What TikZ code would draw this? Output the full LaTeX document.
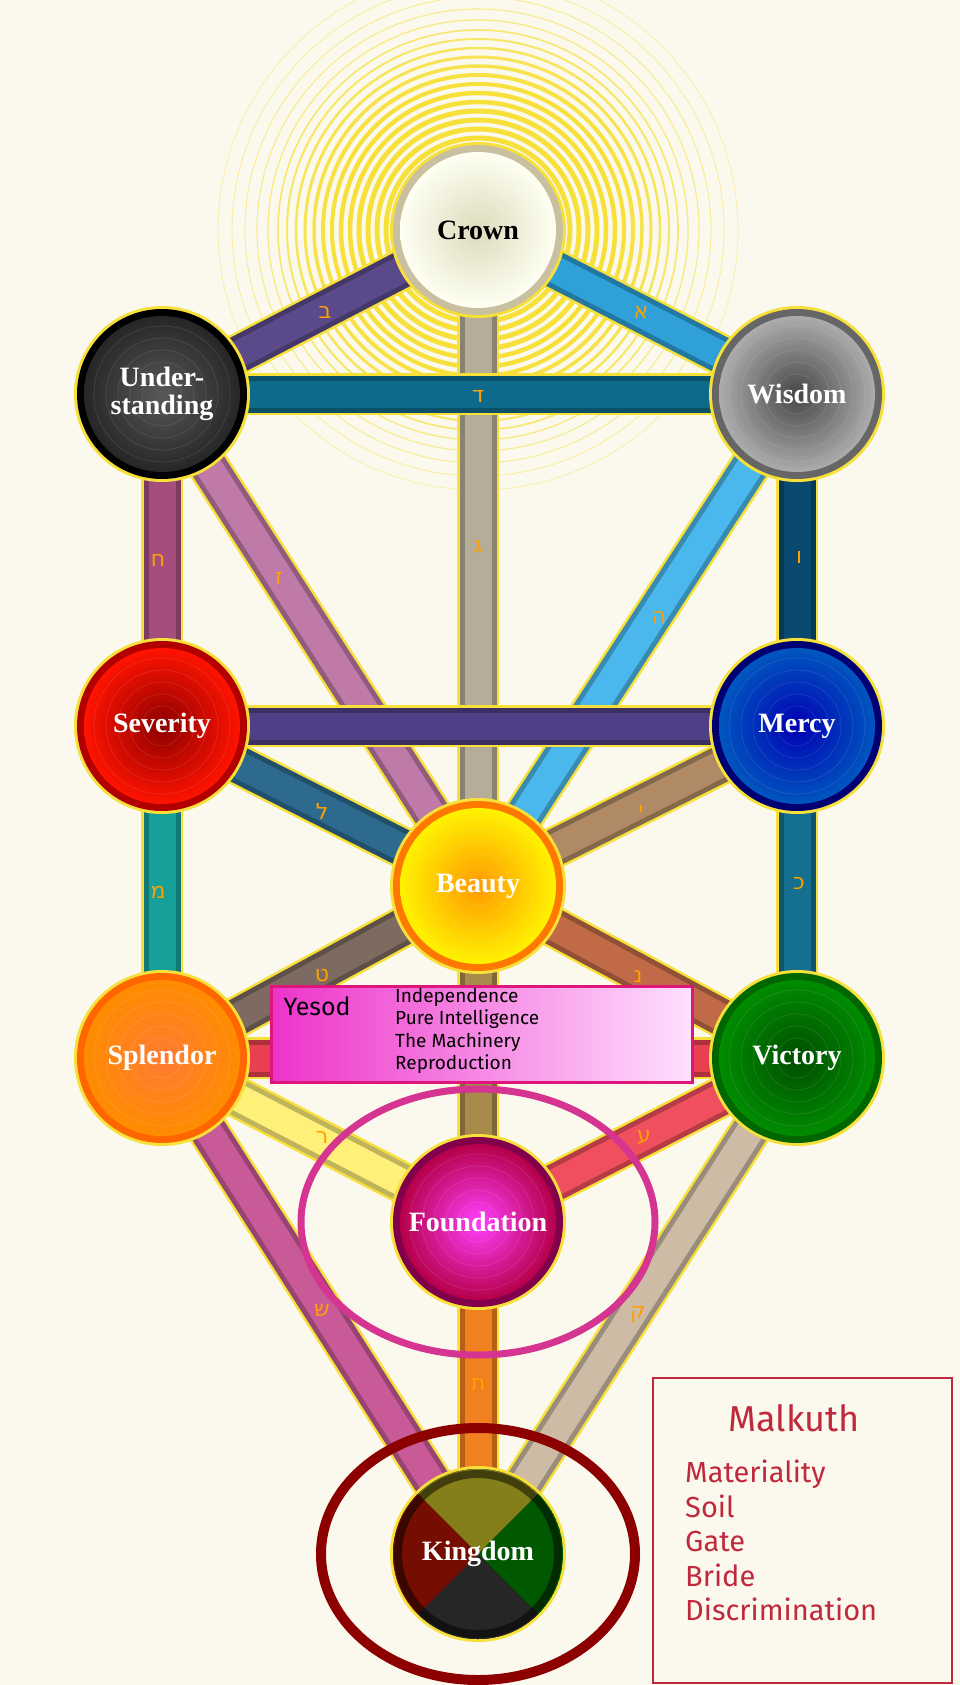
\documentclass[tikz,border=0pt]{standalone}
\usepackage{fontspec}
\setmainfont{Liberation Serif}
\newfontfamily\hebfont{DejaVu Sans}
\newfontfamily\boxfont{Fira Sans}
\begin{document}
\begin{tikzpicture}[x=1pt,y=-1pt,
  heb/.style={text=orange!75!yellow,font=\hebfont\fontsize{22}{22}\selectfont},
  sname/.style={font=\bfseries\fontsize{28}{30}\selectfont,align=center}]
\definecolor{bg}{HTML}{FBF9EE}
\definecolor{glow}{HTML}{F7E03A}
\definecolor{crim}{HTML}{C0283C}
\fill[bg] (0,0) rectangle (960,1685);
\useasboundingbox (0,0) rectangle (960,1685);
% centers
\coordinate (crown) at (478,230);
\coordinate (und) at (162,394);
\coordinate (wis) at (797,394);
\coordinate (sev) at (162,726);
\coordinate (mer) at (797,726);
\coordinate (bea) at (478,886);
\coordinate (spl) at (162,1058);
\coordinate (vic) at (797,1058);
\coordinate (fou) at (478,1222);
\coordinate (kin) at (478,1554);
% glow rings
\foreach \r/\w/\o in {92/5/1,101/5/1,110/5/1,119/5/1,128/4.5/1,137/4.5/1,146/4/1,155/4/.95,164/3.5/.9,173/3/.85,182/2.5/.8,191/2/.75,200/1.6/.7,210/1.3/.6,221/1.1/.55,233/1/.5,246/.9/.45,260/.8/.4}
  \draw[glow,line width=\w,opacity=\o] (crown) circle (\r);
% paths
\newcommand\sefpath[3]{%
  \draw[glow,line width=42] (#1) -- (#2);
  \draw[#3!75!black,line width=37] (#1) -- (#2);
  \draw[#3,line width=27] (#1) -- (#2);}
\definecolor{p1}{HTML}{5A4A8A}\definecolor{p2}{HTML}{2FA0D8}
\definecolor{p3}{HTML}{B5AD98}\definecolor{p4}{HTML}{0E6A8A}
\definecolor{p5}{HTML}{A54E7E}\definecolor{p6}{HTML}{C07AA8}
\definecolor{p7}{HTML}{0A4A70}\definecolor{p8}{HTML}{4AB8EC}
\definecolor{p9}{HTML}{4F3F86}\definecolor{p10}{HTML}{2D6A8E}
\definecolor{p11}{HTML}{B08A64}\definecolor{p12}{HTML}{17A09A}
\definecolor{p13}{HTML}{14708E}\definecolor{p14}{HTML}{7D6A60}
\definecolor{p15}{HTML}{C06A48}\definecolor{p16}{HTML}{A88A4A}
\definecolor{p17}{HTML}{E84050}\definecolor{p18}{HTML}{FFF07A}
\definecolor{p19}{HTML}{F0505E}\definecolor{p20}{HTML}{C85A98}
\definecolor{p21}{HTML}{CDBBA5}\definecolor{p22}{HTML}{F08020}
\sefpath{crown}{bea}{p3}
\sefpath{und}{bea}{p6}
\sefpath{wis}{bea}{p8}
\sefpath{sev}{bea}{p10}
\sefpath{mer}{bea}{p11}
\sefpath{crown}{und}{p1}
\sefpath{crown}{wis}{p2}
\sefpath{und}{wis}{p4}
\sefpath{und}{sev}{p5}
\sefpath{wis}{mer}{p7}
\sefpath{sev}{mer}{p9}
\sefpath{sev}{spl}{p12}
\sefpath{mer}{vic}{p13}
\sefpath{bea}{fou}{p16}
\sefpath{bea}{spl}{p14}
\sefpath{bea}{vic}{p15}
\sefpath{spl}{vic}{p17}
\sefpath{spl}{fou}{p18}
\sefpath{vic}{fou}{p19}
\sefpath{fou}{kin}{p22}
\sefpath{spl}{kin}{p20}
\sefpath{vic}{kin}{p21}
% hebrew letters
\node[heb] (h1) at (325,312) {ב};
\node[heb] (h2) at (641,312) {א};
\node[heb] (h3) at (478,396) {ד};
\node[heb] (h4) at (478,547) {ג};
\node[heb] (h5) at (158,560) {ח};
\node[heb] (h6) at (279,578) {ז};
\node[heb] (h7) at (799,557) {ו};
\node[heb] (h8) at (659,617) {ה};
\node[heb] (h9) at (322,811) {ל};
\node[heb] (h10) at (641,811) {י};
\node[heb] (h11) at (158,892) {מ};
\node[heb] (h12) at (799,883) {כ};
\node[heb] (h13) at (322,976) {ט};
\node[heb] (h14) at (638,976) {נ};
\node[heb] (h15) at (322,1137) {ר};
\node[heb] (h16) at (644,1137) {ע};
\node[heb] (h17) at (322,1310) {ש};
\node[heb] (h18) at (638,1315) {ק};
\node[heb] (h19) at (478,1385) {ת};
% sephiroth
\newcommand\sefira[6]{%
  \fill[glow] (#1) circle (88);
  \fill[#2] (#1) circle (85);
  \shade[inner color=#4,outer color=#3] (#1) circle (78);
  \foreach \rr in {20,32,44,56,68}{\draw[white,opacity=.12,line width=.6] (#1) circle (\rr);}
  \node[sname,text=#5] (#1-t) at (#1) {#6};}
\definecolor{cr}{HTML}{C8C0A0}
\sefira{crown}{cr}{white!95!yellow}{yellow!30!gray!40!white}{black}{Crown}
\sefira{und}{black}{black!85}{black!65}{white}{Under-\\[-2pt]standing}
\sefira{wis}{gray!80!black}{gray!65}{gray!55!black}{white}{Wisdom}
\sefira{sev}{red!70!black}{red!85!orange}{red!55!black}{white}{Severity}
\sefira{mer}{blue!45!black}{blue!55!cyan!75!black}{blue!70!black}{white}{Mercy}
\sefira{bea}{orange!95!red}{yellow!90!orange}{orange!80!yellow}{white}{Beauty}
\sefira{spl}{orange!80!red}{orange!90!yellow}{orange!70!red!80!white}{white}{Splendor}
\sefira{vic}{green!40!black}{green!55!black}{green!30!black}{white}{Victory}
\sefira{fou}{violet!50!purple!80!black}{purple!85!violet}{magenta!75!white}{white}{Foundation}
% kingdom
\fill[glow] (kin) circle (88);
\begin{scope}
\clip (kin) circle (85);
\fill[black] (kin) circle (85);
\fill[olive!85!yellow!80!black] (kin) -- ++(-120,-120) -- ++(240,0) -- cycle;
\fill[green!35!black] (kin) -- ++(120,-120) -- ++(0,240) -- cycle;
\fill[black!85] (kin) -- ++(120,120) -- ++(-240,0) -- cycle;
\fill[red!40!black!90!orange] (kin) -- ++(-120,120) -- ++(0,-240) -- cycle;
\draw[black,opacity=.5,line width=8] (kin) circle (80);
\end{scope}
\node[sname,text=white] (kin-t) at (kin) {Kingdom};
% highlight ellipses
\draw[magenta!70!violet!90!white,line width=7] (fou) ellipse (177 and 133);
\draw[red!55!black,line width=10] (kin) ellipse (157 and 126);
% Yesod box
\shade[left color=magenta!65!purple!80!white,right color=magenta!12!white] (271,986) rectangle (692,1082);
\draw[magenta!70!purple,line width=3] (271,986) rectangle (692,1082);
\node[anchor=west,font=\boxfont\fontsize{25}{25}\selectfont] (yes) at (280,1006) {Yesod};
\node[anchor=north west,align=left,font=\boxfont\fontsize{19}{22.5}\selectfont,inner sep=0] (yesl) at (395,988) {Independence\\Pure Intelligence\\The Machinery\\Reproduction};
% Malkuth box
\draw[crim,line width=2] (653,1378) rectangle (952,1683);
\node[text=crim,font=\boxfont\fontsize{36}{36}\selectfont] (mt) at (794,1418) {Malkuth};
\node[anchor=north west,align=left,text=crim,font=\boxfont\fontsize{29}{34.5}\selectfont,inner sep=0] (ml) at (685,1460) {Materiality\\Soil\\Gate\\Bride\\Discrimination};
\end{tikzpicture}
\end{document}
